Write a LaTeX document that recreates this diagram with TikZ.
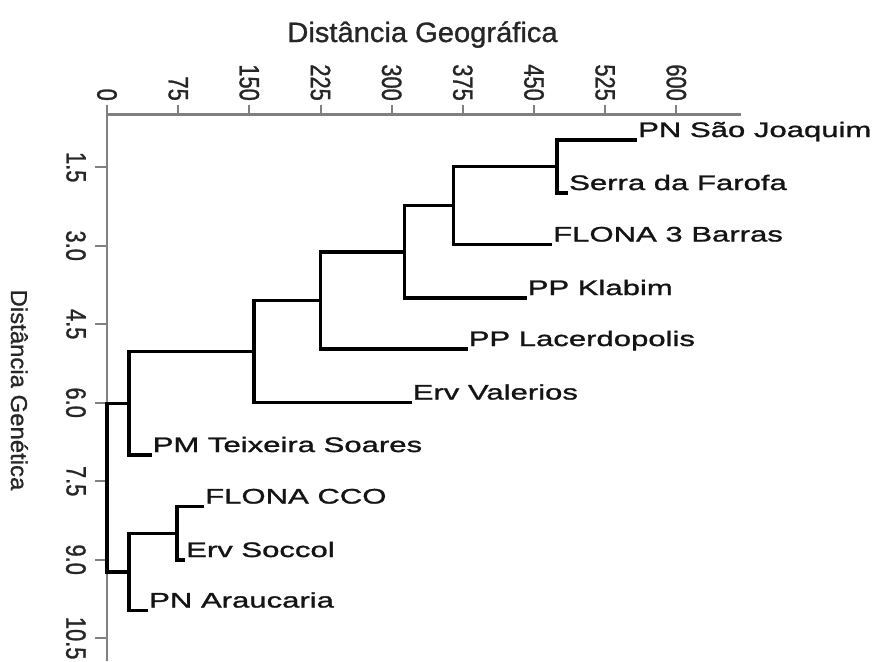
\documentclass[tikz,border=0pt]{standalone}
\usepackage{fontspec}
\setmainfont{Liberation Sans}
\newfontfamily\leaffont{Liberation Sans}[FakeStretch=1.48,FakeBold=1.3]
\newfontfamily\tickfont{Liberation Sans}[FakeStretch=0.78,FakeBold=1]
\newfontfamily\ttlfont{Liberation Sans}[FakeStretch=1.04,FakeBold=1]
\definecolor{axisgray}{HTML}{808080}
\definecolor{txtgray}{HTML}{262626}
\begin{document}
\begin{tikzpicture}[x=1pt,y=-1pt,
  axisline/.style={draw=axisgray, line width=2.4pt},
  tickline/.style={draw=axisgray, line width=2pt},
  tree/.style={draw=black, line width=3.3pt, line join=miter},
  leaf/.style={anchor=base west, inner sep=0pt, xshift=1pt, yshift=3pt,
    font=\leaffont\fontsize{21}{25}\selectfont, text=black!92},
  toplab/.style={rotate=-90, anchor=east, inner sep=0pt,
    font=\tickfont\fontsize{28}{30}\selectfont, text=txtgray},
  leftlab/.style={rotate=-90, anchor=north, inner sep=0pt,
    font=\tickfont\fontsize{28}{30}\selectfont, text=txtgray},
  axtitle/.style={inner sep=0pt, text=txtgray}]
\useasboundingbox[fill=white] (0,0) rectangle (874,661);

% titles
\node[axtitle, anchor=base, font=\ttlfont\fontsize{28}{30}\selectfont] (tgeo) at (422.5,42) {Distância Geográfica};
\node[axtitle, rotate=-90, anchor=base, font=\ttlfont\fontsize{23}{26}\selectfont] (tgen) at (11,390) {Distância Genética};

% axes
\coordinate (O) at (107,114.5);
\coordinate (xend) at (741,114.5);
\coordinate (yend) at (107,661);
\draw[axisline] (xend) -- (O) -- (yend);

% top ticks
\foreach \v in {0,75,...,600}{
  \pgfmathsetmacro\xx{107+0.9489*\v}
  \coordinate (tt\v) at (\xx,114.5);
  \coordinate (tb\v) at (\xx,105);
  \draw[tickline] (tt\v) -- (tb\v);
  \node[toplab] (tl\v) at (\xx,101) {\v};
}
% left ticks
\foreach \v/\t [count=\i] in {1.5/1.5,3/3.0,4.5/4.5,6/6.0,7.5/7.5,9/9.0,10.5/10.5}{
  \pgfmathsetmacro\yy{402.7+(\v-6)*52.33}
  \coordinate (lt\i) at (107,\yy);
  \coordinate (lb\i) at (95,\yy);
  \draw[tickline] (lt\i) -- (lb\i);
  \node[leftlab] (ll\i) at (86,\yy) {\t};
}

% leaf ends
\coordinate (l1) at (637,140);
\coordinate (l2) at (568,193);
\coordinate (l3) at (552,244.5);
\coordinate (l4) at (526.5,298);
\coordinate (l5) at (467.5,349);
\coordinate (l6) at (411.5,402.5);
\coordinate (l7) at (151.5,455);
\coordinate (l8) at (204,506.5);
\coordinate (l9) at (185,560);
\coordinate (l10) at (148,610.5);

% internal nodes
\coordinate (A) at (557,166.5);
\coordinate (B) at (453.5,205.5);
\coordinate (C) at (404.5,252);
\coordinate (D) at (320.5,300.5);
\coordinate (E) at (254,351.5);
\coordinate (F) at (129,403.2);
\coordinate (G) at (177,533.3);
\coordinate (H) at (129,572);
\coordinate (R) at (107,487.6);

% dendrogram
\draw[tree] (l1) -| (A) |- (l2);
\draw[tree] (A) -| (B) |- (l3);
\draw[tree] (B) -| (C) |- (l4);
\draw[tree] (C) -| (D) |- (l5);
\draw[tree] (D) -| (E) |- (l6);
\draw[tree] (E) -| (F) |- (l7);
\draw[tree] (l8) -| (G) |- (l9);
\draw[tree] (G) -| (H) |- (l10);
\draw[tree] (F) -| (R) |- (H);

% labels
\node[leaf] (n1) at (l1) {PN São Joaquim};
\node[leaf] (n2) at (l2) {Serra da Farofa};
\node[leaf] (n3) at (l3) {FLONA 3 Barras};
\node[leaf] (n4) at (l4) {PP Klabim};
\node[leaf] (n5) at (l5) {PP Lacerdopolis};
\node[leaf] (n6) at (l6) {Erv Valerios};
\node[leaf] (n7) at (l7) {PM Teixeira Soares};
\node[leaf] (n8) at (l8) {FLONA CCO};
\node[leaf] (n9) at (l9) {Erv Soccol};
\node[leaf] (n10) at (l10) {PN Araucaria};
\end{tikzpicture}
\end{document}
